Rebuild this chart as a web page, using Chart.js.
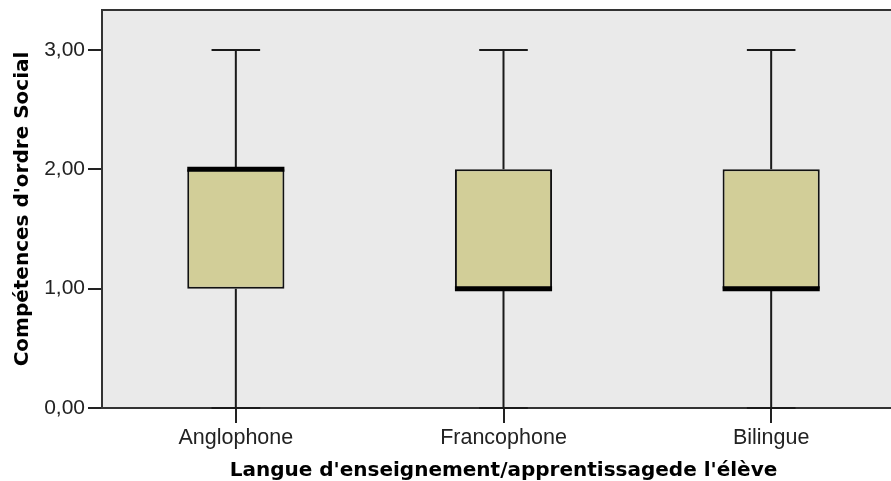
<!DOCTYPE html>
<html><head><meta charset="utf-8">
<script src="https://cdn.jsdelivr.net/npm/chart.js@4/dist/chart.umd.min.js"></script>
<style>html,body{margin:0;padding:0;background:#fff;overflow:hidden;width:891px;height:481px}</style>
</head><body>
<canvas id="c" width="905" height="481"></canvas>
<script>
const categories = ['Anglophone', 'Francophone', 'Bilingue'];
const minValues = [0, 0, 0];
const q1Values = [1, 1, 1];
const medianValues = [2, 1, 1];
const q3Values = [2, 2, 2];
const maxValues = [3, 3, 3];
const yTicks = [0, 1, 2, 3];
const yAxisMin = 0;
const yAxisMax = 3.335;
const xTitle = "Langue d'enseignement/apprentissagede l'élève";
const yTitle = "Compétences d'ordre Social";

const boxData = categories.map((c, i) => [q1Values[i], q3Values[i]]);

const plotBg = {
  id: 'plotBg',
  beforeDraw(chart) {
    const {ctx, chartArea: a} = chart;
    ctx.save();
    ctx.fillStyle = '#EAEAEA';
    ctx.fillRect(a.left, a.top, a.right - a.left, a.bottom - a.top);
    ctx.restore();
  },
  afterDraw(chart) {
    const {ctx, chartArea: a} = chart;
    ctx.save();
    ctx.strokeStyle = '#333';
    ctx.lineWidth = 2;
    ctx.beginPath();
    ctx.moveTo(a.left - 1, a.top);
    ctx.lineTo(a.right, a.top);
    ctx.stroke();
    ctx.restore();
  }
};

const boxExtras = {
  id: 'boxExtras',
  afterDatasetsDraw(chart) {
    const {ctx} = chart;
    const y = chart.scales.y;
    const meta = chart.getDatasetMeta(0);
    ctx.save();
    meta.data.forEach((bar, i) => {
      const x = bar.x;
      const half = bar.width / 2;
      const cap = half * 0.5;
      ctx.strokeStyle = '#1a1a1a';
      ctx.lineWidth = 2;
      ctx.beginPath();
      ctx.moveTo(x, y.getPixelForValue(q3Values[i]));
      ctx.lineTo(x, y.getPixelForValue(maxValues[i]));
      ctx.moveTo(x - cap, y.getPixelForValue(maxValues[i]));
      ctx.lineTo(x + cap, y.getPixelForValue(maxValues[i]));
      ctx.moveTo(x, y.getPixelForValue(q1Values[i]));
      ctx.lineTo(x, y.getPixelForValue(minValues[i]));
      ctx.moveTo(x - cap, y.getPixelForValue(minValues[i]));
      ctx.lineTo(x + cap, y.getPixelForValue(minValues[i]));
      ctx.stroke();
      ctx.strokeStyle = '#000';
      ctx.lineWidth = 5;
      ctx.beginPath();
      ctx.moveTo(x - half, y.getPixelForValue(medianValues[i]));
      ctx.lineTo(x + half, y.getPixelForValue(medianValues[i]));
      ctx.stroke();
    });
    ctx.restore();
  }
};

new Chart(document.getElementById('c'), {
  type: 'bar',
  data: {
    labels: categories,
    datasets: [{
      data: boxData,
      backgroundColor: '#D2CE98',
      borderColor: '#111',
      borderWidth: 2,
      borderSkipped: false,
      barPercentage: 0.363,
      categoryPercentage: 1
    }]
  },
  options: {
    responsive: false,
    animation: false,
    layout: {padding: {top: 10, right: 0, left: 0, bottom: 0}},
    plugins: {legend: {display: false}, tooltip: {enabled: false}},
    scales: {
      x: {
        offset: true,
        grid: {offset: false, drawOnChartArea: false, tickLength: 15, color: '#222', lineWidth: 2},
        border: {display: true, color: '#333', width: 2},
        ticks: {color: '#222', padding: 2, maxRotation: 0, font: {family: 'Liberation Sans, Arial, sans-serif', size: 21.5}},
        title: {display: true, text: xTitle, color: '#000', padding: {top: 0, bottom: 0},
                font: {family: 'DejaVu Sans', weight: 'bold', size: 20, lineHeight: 1}},
        afterFit(s) { s.height = 73; s.paddingLeft = 0; s.paddingRight = 0; }
      },
      y: {
        min: yAxisMin,
        max: yAxisMax,
        afterBuildTicks(s) { s.ticks = yTicks.map(v => ({value: v})); },
        grid: {drawOnChartArea: false, tickLength: 14, color: '#222', lineWidth: 2},
        border: {display: true, color: '#333', width: 2},
        ticks: {color: '#222', padding: 3, font: {family: 'Liberation Sans, Arial, sans-serif', size: 21},
                callback: v => v.toFixed(2).replace('.', ',')},
        title: {display: true, text: yTitle, color: '#000', padding: {top: 13, bottom: 0},
                font: {family: 'DejaVu Sans', weight: 'bold', size: 20, lineHeight: 1}},
        afterFit(s) { s.width = 102; s.paddingTop = 0; s.paddingBottom = 0; }
      }
    }
  },
  plugins: [plotBg, boxExtras]
});
</script>
</body></html>
